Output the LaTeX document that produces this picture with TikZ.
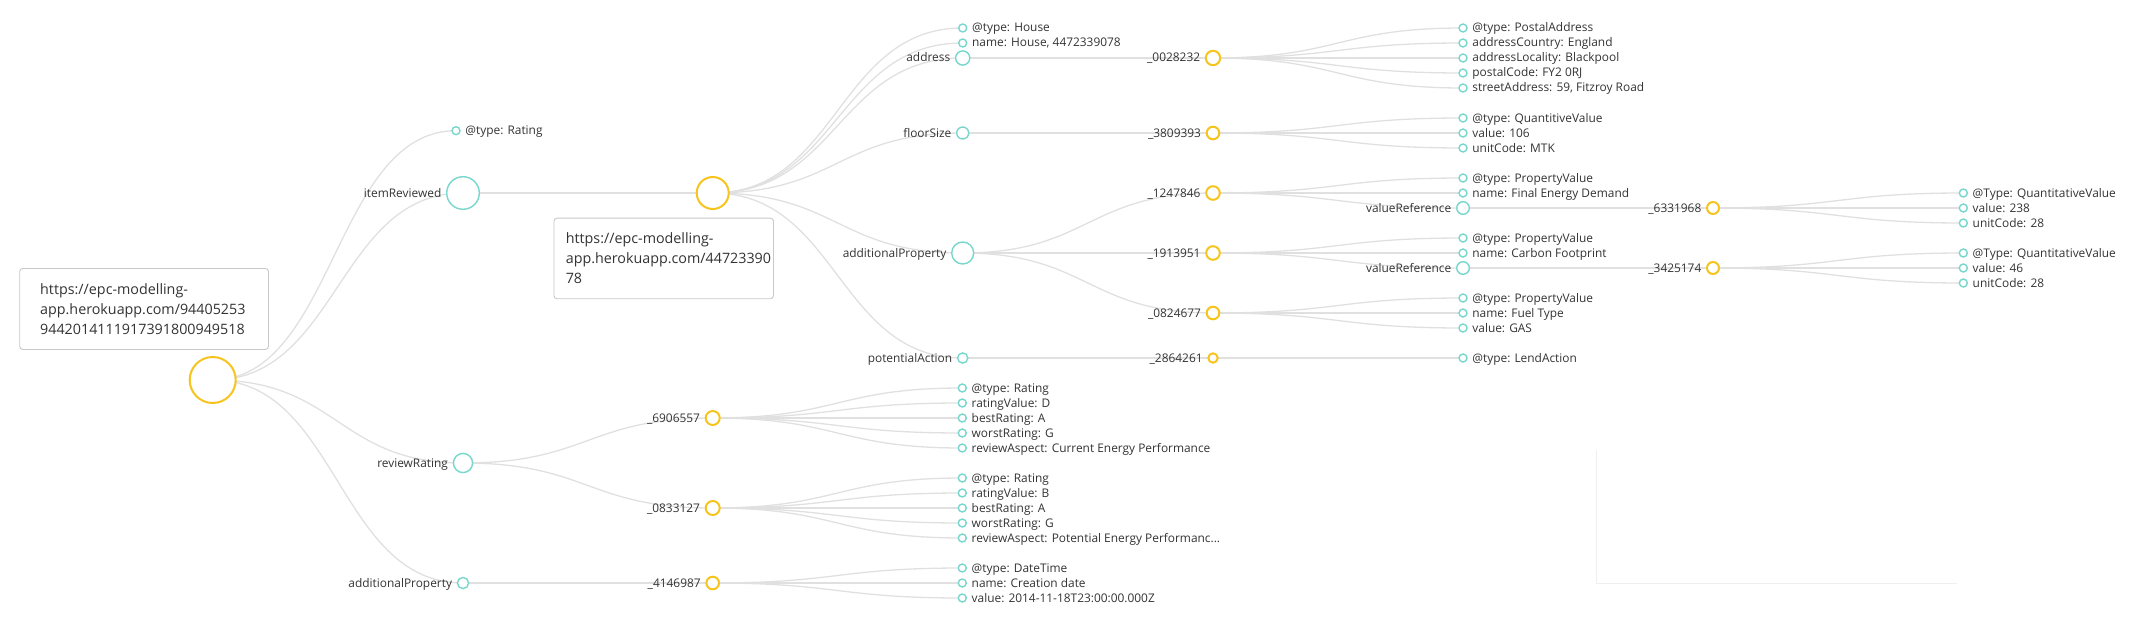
\documentclass[tikz,border=0pt]{standalone}
\usepackage{fontspec}
\setmainfont{Open Sans}
\usetikzlibrary{calc,backgrounds}
\definecolor{tealc}{HTML}{78D7CD}
\definecolor{goldc}{HTML}{F7C41E}
\definecolor{linkc}{HTML}{E0E0E0}
\definecolor{txtc}{HTML}{333333}
\definecolor{boxc}{HTML}{C8C8C8}
\definecolor{faintc}{HTML}{EFEFEF}
\tikzset{
 tn/.style={circle,draw=tealc,line width=1.4pt,fill=white,inner sep=0pt,minimum size=#1},
 yn/.style={circle,draw=goldc,line width=2pt,fill=white,inner sep=0pt,minimum size=#1},
 lf/.style={tn=8pt},
 every label/.style={text=txtc,font=\fontsize{11.9}{13}\selectfont,inner sep=0pt,text height=9pt,text depth=1pt},
 label distance=4.5pt,
 lnk/.style={draw=linkc,line width=1.3pt},
 tipbox/.style={draw=boxc,fill=white,rounded corners=3pt,line width=0.9pt,inner sep=0pt,anchor=north west},
 tiptext/.style={text=txtc,font=\fontsize{14.3}{20}\selectfont,inner sep=0pt,anchor=base west},
}
\newcommand\drawlink[2]{\path ($(#1.center)!.5!(#2.center)$) coordinate (lkm);
 \draw[lnk] (#1.center) .. controls (lkm |- #1.center) and (lkm |- #2.center) .. (#2.center);}
\begin{document}
\begin{tikzpicture}[x=1pt,y=-1pt]
\useasboundingbox (0,0) rectangle (2132,634);
% root and its children
\node[yn=46pt] (root) at (212.7,380) {};
\node[lf,label={east:{@type: Rating}}] (rtype) at (456,130.7) {};
\node[tn=32.6pt,label={west:{itemReviewed}}] (irev) at (463,193) {};
\node[tn=19.2pt,label={west:{reviewRating}}] (rrat) at (463,463) {};
\node[tn=11.2pt,label={west:{additionalProperty}}] (radd) at (463,583) {};
% item
\node[yn=32pt] (item) at (712.7,193) {};
\node[lf,label={east:{@type: House}}] (htype) at (962.7,28) {};
\node[lf,label={east:{name: House, 4472339078}}] (hname) at (962.7,43) {};
\node[tn=14.2pt,label={west:{address}}] (addr) at (962.7,58) {};
\node[tn=12pt,label={west:{floorSize}}] (fsz) at (962.7,133) {};
\node[tn=22pt,label={west:{additionalProperty}}] (aprop) at (962.7,253) {};
\node[tn=10.2pt,label={west:{potentialAction}}] (pact) at (962.7,358) {};
% column 4
\node[yn=14.4pt,label={west:{\_0028232}}] (n0028) at (1213,58) {};
\node[yn=12.6pt,label={west:{\_3809393}}] (n3809) at (1213,133) {};
\node[yn=13.6pt,label={west:{\_1247846}}] (n1247) at (1213,193) {};
\node[yn=13.6pt,label={west:{\_1913951}}] (n1913) at (1213,253) {};
\node[yn=12.6pt,label={west:{\_0824677}}] (n0824) at (1213,313) {};
\node[yn=9.4pt,label={west:{\_2864261}}] (n2864) at (1213,358) {};
% column 5
\node[lf,label={east:{@type: PostalAddress}}] (a1) at (1463,28) {};
\node[lf,label={east:{addressCountry: England}}] (a2) at (1463,43) {};
\node[lf,label={east:{addressLocality: Blackpool}}] (a3) at (1463,58) {};
\node[lf,label={east:{postalCode: FY2 0RJ}}] (a4) at (1463,73) {};
\node[lf,label={east:{streetAddress: 59, Fitzroy Road}}] (a5) at (1463,88) {};
\node[lf,label={east:{@type: QuantitiveValue}}] (f1) at (1463,118) {};
\node[lf,label={east:{value: 106}}] (f2) at (1463,133) {};
\node[lf,label={east:{unitCode: MTK}}] (f3) at (1463,148) {};
\node[lf,label={east:{@type: PropertyValue}}] (q1) at (1463,178) {};
\node[lf,label={east:{name: Final Energy Demand}}] (q2) at (1463,193) {};
\node[tn=12.6pt,label={west:{valueReference}}] (q3) at (1463,208) {};
\node[lf,label={east:{@type: PropertyValue}}] (c1) at (1463,238) {};
\node[lf,label={east:{name: Carbon Footprint}}] (c2) at (1463,253) {};
\node[tn=12.6pt,label={west:{valueReference}}] (c3) at (1463,268) {};
\node[lf,label={east:{@type: PropertyValue}}] (g1) at (1463,298) {};
\node[lf,label={east:{name: Fuel Type}}] (g2) at (1463,313) {};
\node[lf,label={east:{value: GAS}}] (g3) at (1463,328) {};
\node[lf,label={east:{@type: LendAction}}] (l1) at (1463,358) {};
% column 6 and 7
\node[yn=12pt,label={west:{\_6331968}}] (n6331) at (1713,208) {};
\node[yn=12pt,label={west:{\_3425174}}] (n3425) at (1713,268) {};
\node[lf,label={east:{@Type: QuantitativeValue}}] (u1) at (1963.3,193) {};
\node[lf,label={east:{value: 238}}] (u2) at (1963.3,208) {};
\node[lf,label={east:{unitCode: 28}}] (u3) at (1963.3,223) {};
\node[lf,label={east:{@Type: QuantitativeValue}}] (w1) at (1963.3,253) {};
\node[lf,label={east:{value: 46}}] (w2) at (1963.3,268) {};
\node[lf,label={east:{unitCode: 28}}] (w3) at (1963.3,283) {};
% ratings
\node[yn=14pt,label={west:{\_6906557}}] (n6906) at (712.7,418) {};
\node[yn=14pt,label={west:{\_0833127}}] (n0833) at (712.7,508) {};
\node[yn=12.6pt,label={west:{\_4146987}}] (n4146) at (712.7,583) {};
\node[lf,label={east:{@type: Rating}}] (r1) at (962.3,388) {};
\node[lf,label={east:{ratingValue: D}}] (r2) at (962.3,403) {};
\node[lf,label={east:{bestRating: A}}] (r3) at (962.3,418) {};
\node[lf,label={east:{worstRating: G}}] (r4) at (962.3,433) {};
\node[lf,label={east:{reviewAspect: Current Energy Performance}}] (r5) at (962.3,448) {};
\node[lf,label={east:{@type: Rating}}] (s1) at (962.3,478) {};
\node[lf,label={east:{ratingValue: B}}] (s2) at (962.3,493) {};
\node[lf,label={east:{bestRating: A}}] (s3) at (962.3,508) {};
\node[lf,label={east:{worstRating: G}}] (s4) at (962.3,523) {};
\node[lf,label={east:{reviewAspect: Potential Energy Performanc...}}] (s5) at (962.3,538) {};
\node[lf,label={east:{@type: DateTime}}] (d1) at (962.3,568) {};
\node[lf,label={east:{name: Creation date}}] (d2) at (962.3,583) {};
\node[lf,label={east:{value: 2014-11-18T23:00:00.000Z}}] (d3) at (962.3,598) {};
% tooltips
\node[tipbox,minimum width=248.7pt,minimum height=81pt] (tip1) at (19.3,268) {};
\node[tiptext] (tip1a) at (40,294.3) {https://epc-modelling-};
\node[tiptext] (tip1b) at (40,314.3) {app.herokuapp.com/94405253};
\node[tiptext] (tip1c) at (40,334.3) {9442014111917391800949518};
\node[tipbox,minimum width=219.5pt,minimum height=80.6pt] (tip2) at (553.5,217.7) {};
\node[tiptext] (tip2a) at (565.6,243.5) {https://epc-modelling-};
\node[tiptext] (tip2b) at (565.6,263.5) {app.herokuapp.com/44723390};
\node[tiptext] (tip2c) at (565.6,283.5) {78};
% faint frame
\draw[faintc,line width=0.8pt] (1596,450) -- (1596,583) -- (1957,583);
% links
\begin{pgfonlayer}{background}
\foreach \c in {rtype,irev,rrat,radd} {\drawlink{root}{\c}}
\drawlink{irev}{item}
\foreach \c in {htype,hname,addr,fsz,aprop,pact} {\drawlink{item}{\c}}
\drawlink{addr}{n0028}
\drawlink{fsz}{n3809}
\foreach \c in {n1247,n1913,n0824} {\drawlink{aprop}{\c}}
\drawlink{pact}{n2864}
\foreach \c in {a1,a2,a3,a4,a5} {\drawlink{n0028}{\c}}
\foreach \c in {f1,f2,f3} {\drawlink{n3809}{\c}}
\foreach \c in {q1,q2,q3} {\drawlink{n1247}{\c}}
\foreach \c in {c1,c2,c3} {\drawlink{n1913}{\c}}
\foreach \c in {g1,g2,g3} {\drawlink{n0824}{\c}}
\drawlink{n2864}{l1}
\drawlink{q3}{n6331}
\drawlink{c3}{n3425}
\foreach \c in {u1,u2,u3} {\drawlink{n6331}{\c}}
\foreach \c in {w1,w2,w3} {\drawlink{n3425}{\c}}
\foreach \c in {n6906,n0833} {\drawlink{rrat}{\c}}
\drawlink{radd}{n4146}
\foreach \c in {r1,r2,r3,r4,r5} {\drawlink{n6906}{\c}}
\foreach \c in {s1,s2,s3,s4,s5} {\drawlink{n0833}{\c}}
\foreach \c in {d1,d2,d3} {\drawlink{n4146}{\c}}
\end{pgfonlayer}
\end{tikzpicture}
\end{document}
